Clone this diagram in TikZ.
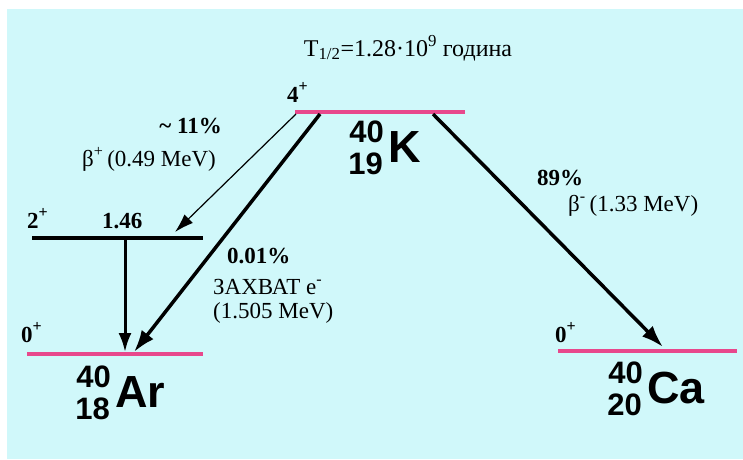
\documentclass[tikz,border=0pt]{standalone}
\usepackage{fontspec}
\setmainfont{Liberation Serif}
\newfontfamily\nucfont{Liberation Sans}
\usetikzlibrary{arrows.meta}
\definecolor{lightcyan}{RGB}{208,248,250}
\definecolor{levelpink}{RGB}{232,72,140}

\tikzset{
  level/.style={line width=4pt,color=levelpink},
  excited/.style={line width=3.5pt,color=black},
  decay/.style={-{Latex[length=22pt,width=15pt]},line width=3.5pt},
  txt/.style={anchor=base west,inner sep=0pt,font=\fontsize{23}{26}\selectfont},
  btxt/.style={txt,font=\fontsize{23}{26}\selectfont\bfseries},
  mass/.style={anchor=base east,inner sep=0pt,font=\nucfont\bfseries\fontsize{31}{32}\selectfont},
  elem/.style={anchor=base west,inner sep=0pt,font=\nucfont\bfseries\fontsize{45}{48}\selectfont},
}

% name, x, y (base of symbol), A, Z, symbol
\newcommand{\nuclide}[6]{%
  \node[elem] (#1) at (#2,#3) {#6};
  \node[mass] (#1-A) at (#2-4,#3-20) {#4};
  \node[mass] (#1-Z) at (#2-5,#3+12) {#5};
}
% spin superscript, a bit larger than \textsuperscript
\newcommand{\spin}[1]{\raisebox{0.45em}{\fontsize{16}{16}\selectfont #1}}

\begin{document}
\begin{tikzpicture}[x=1pt,y=-1pt]
\useasboundingbox (0,0) rectangle (743,459);
\fill[white] (0,0) rectangle (743,459);
\fill[lightcyan] (7,9) rectangle (743,459);

% levels
\coordinate (K-l) at (295,112);
\coordinate (K-r) at (465,112);
\coordinate (Ar2-l) at (32,238);
\coordinate (Ar2-r) at (203,238);
\coordinate (Ar0-l) at (27,354);
\coordinate (Ar0-r) at (203,354);
\coordinate (Ca0-l) at (558,351);
\coordinate (Ca0-r) at (737,351);
\draw[excited] (Ar2-l) -- (Ar2-r);
\draw[level] (K-l) -- (K-r);
\draw[level] (Ar0-l) -- (Ar0-r);
\draw[level] (Ca0-l) -- (Ca0-r);

% decays
\coordinate (K-a) at (296,114);
\coordinate (K-b) at (320,114);
\coordinate (K-c) at (433,114);
\coordinate (Ar2-in) at (175,232);
\coordinate (Ar2-out) at (125,240);
\coordinate (Ar0-a) at (125,352);
\coordinate (Ar0-b) at (134,352);
\coordinate (Ca0-in) at (663,347);
\draw[-{Latex[length=19pt,width=12pt]},line width=1.2pt] (K-a) -- (Ar2-in);
\draw[decay] (K-b) -- (Ar0-b);
\draw[-{Latex[length=19pt,width=13pt]},line width=3pt] (Ar2-out) -- (Ar0-a);
\draw[decay] (K-c) -- (Ca0-in);

% nuclides
\nuclide{K}{388}{162}{40}{19}{K}
\nuclide{Ar}{115}{407}{40}{18}{Ar}
\nuclide{Ca}{647}{403}{40}{20}{Ca}

% labels
\node[txt,anchor=base,font=\fontsize{24}{26}\selectfont] (half) at (408,56) {T\textsubscript{1/2}=1.28·10\textsuperscript{9} година};
\node[btxt] (K-spin) at (287,102) {4\spin{+}};
\node[btxt] (Ar2-spin) at (27,228) {2\spin{+}};
\node[btxt] (Ar2-en) at (102,228) {1.46};
\node[btxt] (Ar0-spin) at (21,342) {0\spin{+}};
\node[btxt] (Ca0-spin) at (555,342) {0\spin{+}};
\node[btxt,anchor=base east] (bp-pct) at (222,133) {\textasciitilde\ 11\%};
\node[txt] (bp-en) at (82,166) {β\textsuperscript{+}\,(0.49 MeV)};
\node[btxt] (ec-pct) at (227,263) {0.01\%};
\node[txt] (ec-name) at (213,294) {ЗАХВАТ e\textsuperscript{-}};
\node[txt] (ec-en) at (213,318) {(1.505 MeV)};
\node[btxt] (bm-pct) at (537,185) {89\%};
\node[txt] (bm-en) at (568,211) {β\textsuperscript{-}\,(1.33 MeV)};
\end{tikzpicture}
\end{document}
